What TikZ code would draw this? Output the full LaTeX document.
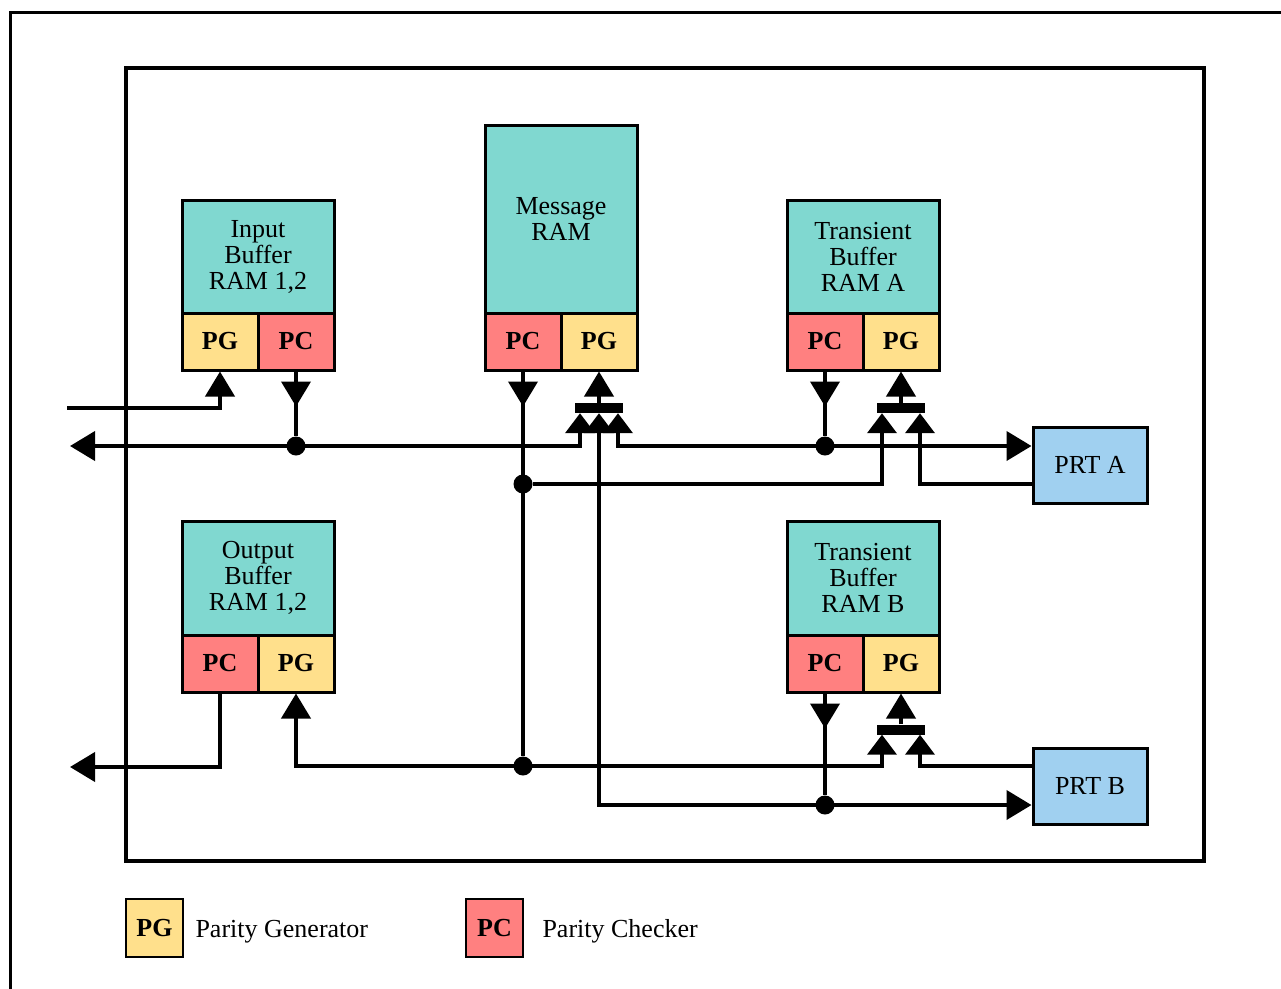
\documentclass[tikz,border=0pt]{standalone}
\usepackage{fontspec}
\setmainfont{Liberation Serif}
\usetikzlibrary{arrows.meta}

\definecolor{ramteal}{RGB}{128,216,208}
\definecolor{pgyellow}{RGB}{255,224,140}
\definecolor{pcred}{RGB}{255,128,128}
\definecolor{prtblue}{RGB}{160,208,240}

\tikzset{
  lbl/.style={font=\fontsize{26}{26}\selectfont},
  ram/.style={draw, line width=3pt, fill=ramteal, inner sep=0pt, align=center,
    minimum width=152pt, lbl},
  half/.style={draw, line width=3pt, inner sep=0pt, minimum width=76pt,
    minimum height=57pt, font=\fontsize{26}{26}\selectfont\bfseries},
  pgbox/.style={half, fill=pgyellow},
  pcbox/.style={half, fill=pcred},
  prt/.style={draw, line width=3pt, fill=prtblue, inner sep=0pt,
    minimum width=114pt, minimum height=76pt, lbl},
  muxbar/.style={fill=black, inner sep=0pt, minimum width=48pt, minimum height=10pt},
  junction/.style={circle, fill=black, inner sep=0pt, minimum size=19pt},
  conn/.style={line width=4pt},
  bigtip/.tip={Triangle[length=25pt, width=29pt]},
  muxtip/.tip={Triangle[length=20pt, width=29pt]},
  legbox/.style={draw, line width=2pt, inner sep=0pt, minimum width=57pt,
    minimum height=58pt, font=\fontsize{26}{26}\selectfont\bfseries},
}

\begin{document}
\begin{tikzpicture}[x=1pt, y=-1pt]
  \clip (0,0) rectangle (1281,988);

  % frames
  \draw[line width=3pt] (10.5,1100) -- (10.5,12.5) -- (1400,12.5);
  \draw[line width=4pt] (126,68) rectangle (1204,861);

  % memory blocks
  \node[ram, minimum height=113pt] (ib) at (258,256.5) {Input\\Buffer\\RAM 1,2};
  \node[pgbox] (ibPG) at (220,341.5) {PG};
  \node[pcbox] (ibPC) at (296,341.5) {PC};

  \node[ram, minimum height=188pt] (mr) at (561,219) {Message\\RAM};
  \node[pcbox] (mrPC) at (523,341.5) {PC};
  \node[pgbox] (mrPG) at (599,341.5) {PG};

  \node[ram, minimum height=113pt] (ta) at (863,256.5) {Transient\\Buffer\\RAM A};
  \node[pcbox] (taPC) at (825,341.5) {PC};
  \node[pgbox] (taPG) at (901,341.5) {PG};

  \node[ram, minimum height=114pt] (ob) at (258,578) {Output\\Buffer\\RAM 1,2};
  \node[pcbox] (obPC) at (220,663.5) {PC};
  \node[pgbox] (obPG) at (296,663.5) {PG};

  \node[ram, minimum height=114pt] (tb) at (863,578) {Transient\\Buffer\\RAM B};
  \node[pcbox] (tbPC) at (825,663.5) {PC};
  \node[pgbox] (tbPG) at (901,663.5) {PG};

  \node[prt] (prtA) at (1090,465) {PRT A};
  \node[prt] (prtB) at (1090,786) {PRT B};

  % selector bars
  \node[muxbar] (muxM) at (599,408) {};
  \node[muxbar] (muxA) at (901,408) {};
  \node[muxbar] (muxB) at (901,729.5) {};

  % junctions
  \node[junction] (j1) at (296,446) {};
  \node[junction] (j2) at (825,446) {};
  \node[junction] (j3) at (523,484) {};
  \node[junction] (j4) at (523,766) {};
  \node[junction] (j5) at (825,805) {};

  \coordinate (inL) at (67,408);
  \coordinate (busL) at (70,446);
  \coordinate (outL) at (70,767);

  % input line
  \draw[conn, -{bigtip}] (inL) -| (ibPG.south);
  % parity checker taps
  \draw[conn] (ibPC.south) -- (j1);
  \draw[conn, -{bigtip}] (ibPC.south) -- ++(0,35);
  \draw[conn] (taPC.south) -- (j2);
  \draw[conn, -{bigtip}] (taPC.south) -- ++(0,35);
  \draw[conn] (tbPC.south) -- (j5);
  \draw[conn, -{bigtip}] (tbPC.south) -- ++(0,35);
  \draw[conn] (mrPC.south) -- (j4);
  \draw[conn, -{bigtip}] (mrPC.south) -- ++(0,35);

  % upper bus
  \draw[conn, {bigtip}-{muxtip}] (busL) -| ([xshift=-19pt]muxM.south);
  \draw[conn, {muxtip}-{bigtip}] ([xshift=19pt]muxM.south) |- (prtA.west |- j2);
  \draw[conn, {muxtip}-{bigtip}] (muxM.south) |- (prtB.west |- j5);

  % transient buffer A selector
  \draw[conn, -{muxtip}] (j3) -| ([xshift=-19pt]muxA.south);
  \draw[conn, -{muxtip}] (prtA.west |- j3) -| ([xshift=19pt]muxA.south);

  % lower bus
  \draw[conn, -{bigtip}] (obPC.south) |- (outL);
  \draw[conn, {bigtip}-{muxtip}] (obPG.south) |- (j4.center) -| ([xshift=-19pt]muxB.south);
  \draw[conn, -{muxtip}] (prtB.west |- j4) -| ([xshift=19pt]muxB.south);

  % selector outputs
  \draw[conn, -{bigtip}] (muxM.north) -- (mrPG.south);
  \draw[conn, -{bigtip}] (muxA.north) -- (taPG.south);
  \draw[conn, -{bigtip}] (muxB.north) -- (tbPG.south);

  % legend
  \node[legbox, fill=pgyellow] (legPG) at (154.5,928) {PG};
  \node[lbl, anchor=base west] (legPGt) at (192,937) {Parity Generator};
  \node[legbox, fill=pcred] (legPC) at (494.5,928) {PC};
  \node[lbl, anchor=base west] (legPCt) at (539,937) {Parity Checker};
\end{tikzpicture}
\end{document}
